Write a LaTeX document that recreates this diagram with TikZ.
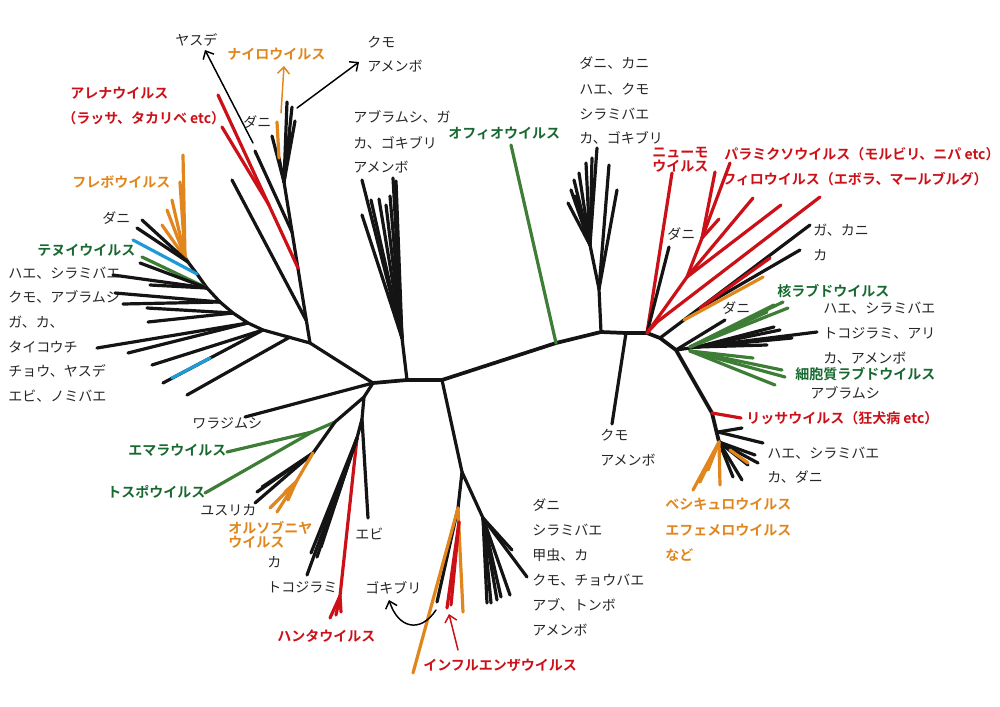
\documentclass[tikz,border=0pt]{standalone}
\usepackage{fontspec}
\setmainfont{Noto Sans CJK JP}[BoldFont={Noto Sans CJK JP Bold}]
\usetikzlibrary{arrows.meta}
\definecolor{vred}{HTML}{CC1018}
\definecolor{vorange}{HTML}{E0861C}
\definecolor{vgreen}{HTML}{3E7D35}
\definecolor{tgreen}{HTML}{17692F}
\definecolor{vblue}{HTML}{1E9BD7}
\newcommand\brfan[4]{\foreach \px/\py [count=\k] in {#4}{\coordinate (#3-\k) at (\px,\py); \draw[#1] (#2) -- (#3-\k);}}
\begin{document}
\begin{tikzpicture}[x=0.75pt,y=-0.75pt,line cap=round,line join=round,
  br/.style={line width=2.4pt},
  bk/.style={br,draw=black!92},
  rd/.style={br,draw=vred},
  og/.style={br,draw=vorange},
  gn/.style={br,draw=vgreen},
  bl/.style={br,draw=vblue},
  lab/.style={anchor=west,inner sep=0pt,text=black!85,font=\fontsize{10.5}{12.6}\selectfont},
  vl/.style={anchor=west,inner sep=0pt,font=\fontsize{10.5}{12.6}\selectfont\bfseries},
  ptr/.style={line width=1.1pt,-{Straight Barb[length=5pt,width=9pt]}}]
\useasboundingbox (0,0) rectangle (1000,707);
% ---------- labels ----------
\node[lab] (yasude) at (175,40) {ヤスデ};
\node[vl,text=vorange] (nairo) at (227,54) {ナイロウイルス};
\node[lab] (kumo1) at (367,42) {クモ};
\node[lab] (amen1) at (367,66) {アメンボ};
\node[vl,text=vred] (arena) at (70,93) {アレナウイルス};
\node[vl,text=vred] (arena2) at (62,118) {（ラッサ、タカリベ etc）};
\node[lab] (dani1) at (243,122) {ダニ};
\node[vl,text=vorange] (phlebo) at (72,182) {フレボウイルス};
\node[lab] (dani2) at (102,218) {ダニ};
\node[vl,text=tgreen] (tenui) at (37,250) {テヌイウイルス};
\node[lab] (lf1) at (8,273) {ハエ、シラミバエ};
\node[lab] (lf2) at (8,297) {クモ、アブラムシ};
\node[lab] (lf3) at (8,322) {ガ、カ、};
\node[lab] (lf4) at (8,347) {タイコウチ};
\node[lab] (lf5) at (8,371) {チョウ、ヤスデ};
\node[lab] (lf6) at (8,396) {エビ、ノミバエ};
\node[lab] (c1) at (353,117) {アブラムシ、ガ};
\node[lab] (c2) at (353,143) {カ、ゴキブリ};
\node[lab] (c3) at (353,167) {アメンボ};
\node[vl,text=tgreen] (ophio) at (448,133) {オフィオウイルス};
\node[lab] (r1) at (579,63) {ダニ、カニ};
\node[lab] (r2) at (579,89) {ハエ、クモ};
\node[lab] (r3) at (579,114) {シラミバエ};
\node[lab] (r4) at (579,138) {カ、ゴキブリ};
\node[vl,text=vred] (pneumo1) at (652,153) {ニューモ};
\node[vl,text=vred] (pneumo2) at (652,166) {ウイルス};
\node[vl,text=vred] (paramyxo) at (724,154) {パラミクソウイルス（モルビリ、ニパ etc）};
\node[vl,text=vred] (filo) at (722,179) {フィロウイルス（エボラ、マールブルグ）};
\node[lab] (dani3) at (667,234) {ダニ};
\node[lab] (gakani) at (813,230) {ガ、カニ};
\node[lab] (ka1) at (813,255) {カ};
\node[vl,text=tgreen] (nrhabdo) at (777,291) {核ラブドウイルス};
\node[lab] (dani4) at (722,308) {ダニ};
\node[lab] (rr1) at (823,308) {ハエ、シラミバエ};
\node[lab] (rr2) at (823,333) {トコジラミ、アリ};
\node[lab] (rr3) at (823,358) {カ、アメンボ};
\node[vl,text=tgreen] (crhabdo) at (795,374) {細胞質ラブドウイルス};
\node[lab] (rr4) at (810,393) {アブラムシ};
\node[vl,text=vred] (lyssa) at (746,418) {リッサウイルス（狂犬病 etc）};
\node[lab] (kumo2) at (600,435) {クモ};
\node[lab] (amen2) at (600,460) {アメンボ};
\node[lab] (g1) at (767,453) {ハエ、シラミバエ};
\node[lab] (g2) at (767,477) {カ、ダニ};
\node[vl,text=vorange] (vesi1) at (665,504) {ベシキュロウイルス};
\node[vl,text=vorange] (vesi2) at (665,530) {エフェメロウイルス};
\node[vl,text=vorange] (vesi3) at (665,555) {など};
\node[lab] (b1) at (532,505) {ダニ};
\node[lab] (b2) at (532,530) {シラミバエ};
\node[lab] (b3) at (532,555) {甲虫、カ};
\node[lab] (b4) at (532,580) {クモ、チョウバエ};
\node[lab] (b5) at (532,605) {アブ、トンボ};
\node[lab] (b6) at (532,630) {アメンボ};
\node[vl,text=vred] (influ) at (423,665) {インフルエンザウイルス};
\node[lab] (waraji) at (192,423) {ワラジムシ};
\node[vl,text=tgreen] (emara) at (128,450) {エマラウイルス};
\node[vl,text=tgreen] (tospo) at (107,492) {トスポウイルス};
\node[lab] (yusurika) at (200,510) {ユスリカ};
\node[vl,text=vorange] (ortho1) at (228,528) {オルソブニヤ};
\node[vl,text=vorange] (ortho2) at (228,542) {ウイルス};
\node[lab] (ka2) at (267,562) {カ};
\node[lab] (toko) at (267,587) {トコジラミ};
\node[lab] (ebi) at (355,534) {エビ};
\node[lab] (goki) at (365,588) {ゴキブリ};
\node[vl,text=vred] (hanta) at (277,636) {ハンタウイルス};
% ---------- backbone ----------
\coordinate (A) at (373,383);
\coordinate (B) at (407,380);
\coordinate (C) at (442,380);
\coordinate (O) at (556,343);
\coordinate (D) at (601,332);
\coordinate (D2) at (626,333);
\coordinate (E) at (647,333);
\coordinate (E1) at (660,338);
\coordinate (F) at (676,350);
\coordinate (G) at (712,413);
\coordinate (G2) at (719,442);
\draw[bk,line width=2.8pt] (A) -- (B) -- (C) -- (O) -- (D) -- (D2) -- (E) -- (E1) -- (F) -- (G) -- (G2);
% ophio
\coordinate (oph) at (511,145);
\draw[gn] (O) -- (oph);
% centre-top clade
\coordinate (B1) at (402,338);
\draw[bk] (B) -- (B1);
\brfan{bk}{B1}{bt}{362/180, 362/215, 371/200, 379/199, 386/205, 390/196, 393/178, 396/181}
% right-top clade
\coordinate (Ds) at (599,289);
\coordinate (D3) at (590,245);
\draw[bk] (D) -- (Ds) -- (D3);
\brfan{bk}{Ds}{dt}{609/165, 617/190}
\brfan{bk}{D3}{du}{597/148, 592/158, 586/163, 579/173, 574/180, 571/190, 575/196, 568/203}
\coordinate (km) at (612,424);
\draw[bk] (D2) -- (km);
% E clade
\coordinate (pn) at (672,173);
\draw[rd] (E) -- (pn);
\coordinate (dn) at (669,247);
\draw[bk] (E) -- (dn);
\coordinate (R1) at (687,277);
\coordinate (Rp) at (702,238);
\draw[rd] (E) -- (R1) -- (Rp);
\brfan{rd}{Rp}{rp}{730/163, 715/172, 719/219}
\brfan{rd}{R1}{rq}{753/198, 781/205}
\coordinate (R2) at (657,322);
\coordinate (fl) at (820,197);
\draw[rd] (E) -- (R2) -- (fl);
\coordinate (ga) at (810,225);
\draw[bk] (E1) -- (ga);
\coordinate (Eg) at (700,308);
\coordinate (Eo) at (684,320);
\brfan{bk}{Eg}{eg}{800/250}
\brfan{rd}{Eg}{er}{770/258}
\brfan{og}{Eo}{eo}{763/277}
% F fan
\coordinate (F2) at (690,347);
\coordinate (F3) at (697,347);
\coordinate (F4) at (690,351);
\draw[bk] (F) -- (F3);
\brfan{bk}{F}{fd}{725/320}
\brfan{bk}{F3}{fb}{817/332, 780/330, 792/338, 767/345, 774/327}
\brfan{gn}{F2}{fg}{783/302, 788/308, 767/312, 774/305}
\brfan{gn}{F4}{fh}{753/358, 782/370, 785/377, 775/385}
% G fan
\coordinate (ly) at (741,418);
\draw[rd] (G) -- (ly);
\coordinate (G3) at (718,432);
\brfan{bk}{G3}{gb}{742/428, 763/443}
\brfan{bk}{G2}{gc}{758/463, 748/465, 742/480, 733/477, 755/455}
\brfan{og}{G2}{go}{693/490, 700/482, 708/470, 720/485}
\coordinate (Go) at (730,450);
\brfan{og}{Go}{gp}{748/463}
% bottom clade
\coordinate (M) at (462,472);
\coordinate (M2) at (458,508);
\coordinate (N) at (483,518);
\draw[bk] (C) -- (M) -- (M2);
\draw[bk] (M) -- (N);
\brfan{bk}{N}{nb}{487/603, 491/603, 497/600, 501/597, 510/595, 527/577, 512/550}
\brfan{bk}{M2}{mb}{437/602}
\brfan{og}{M2}{mo}{413/673, 463/612}
\coordinate (M3) at (459,522);
\brfan{rd}{M3}{mr}{447/608, 451/605}
\coordinate (ia0) at (458,650);
\coordinate (ia1) at (449,614);
\draw[ptr,draw=vred] (ia0) -- (ia1);
\coordinate (cs) at (436,610);
\coordinate (ce) at (389,600);
\draw[ptr] (cs) .. controls (420,634) and (398,628) .. (ce);
% lower-left clade
\coordinate (H) at (310,343);
\draw[bk] (A) -- (H);
\coordinate (I) at (364,397);
\coordinate (J) at (335,422);
\coordinate (K) at (362,419);
\coordinate (K2) at (357,438);
\draw[bk] (A) -- (I) -- (J);
\draw[bk] (I) -- (K) -- (K2);
\coordinate (wj) at (245,417);
\draw[bk] (A) -- (wj);
\coordinate (Jg) at (312,432);
\draw[gn] (J) -- (Jg);
\brfan{gn}{Jg}{jg}{227/452, 205/493}
\coordinate (L) at (313,453);
\draw[bk] (J) -- (L);
\brfan{bk}{L}{lb}{257/492, 255/503, 262/487}
\coordinate (Lo) at (296,482);
\draw[og] (L) -- (Lo);
\brfan{og}{Lo}{lo}{270/508, 277/512, 288/500, 285/492}
\coordinate (Kr) at (340,596);
\draw[rd] (K2) -- (Kr);
\brfan{rd}{Kr}{kr}{330/618, 336/615, 341/612}
\brfan{bk}{K2}{kb}{307/575, 311/553, 317/557, 321/547}
\coordinate (eb) at (368,518);
\draw[bk] (K) -- (eb);
% upper-left clade
\coordinate (T) at (284,182);
\draw[bk] (H) -- (T);
\coordinate (S1) at (306,320);
\coordinate (S2) at (292,232);
\coordinate (S3) at (298,268);
\coordinate (S4) at (269,205);
\brfan{bk}{S1}{sa}{232/180}
\brfan{bk}{S2}{sb}{255/151}
\coordinate (ar) at (218,95);
\coordinate (ar2) at (222,127);
\draw[rd] (S3) -- (ar);
\draw[rd] (S4) -- (ar2);
\brfan{bk}{T}{tb}{287/102, 292/107, 295/121, 290/132, 272/136}
\coordinate (T2) at (279,158);
\draw[bk] (T) -- (T2);
\brfan{og}{T2}{to}{277/122}
\coordinate (ys0) at (253,143);
\coordinate (ys1) at (205,50);
\draw[ptr] (ys0) -- (ys1);
\coordinate (na0) at (281,113);
\coordinate (na1) at (284,66);
\draw[ptr,draw=vorange] (na0) -- (na1);
\coordinate (km0) at (297,108);
\coordinate (km1) at (359,62);
\draw[ptr] (km0) -- (km1);
% left fan
\coordinate (H0) at (263,330);
\coordinate (H1) at (248,323);
\coordinate (H2) at (233,313);
\coordinate (H3) at (220,302);
\coordinate (H4) at (207,288);
\coordinate (H5) at (197,274);
\coordinate (H6) at (188,262);
\coordinate (H7) at (185,257);
\draw[bk] (H) -- (H0) -- (H1) -- (H2) -- (H3) -- (H4) -- (H5) -- (H6) -- (H7);
\brfan{og}{H7}{ho}{183/155, 180/182, 172/200, 167/210}
\brfan{og}{H6}{hp}{162/225}
\brfan{bk}{H6}{hk}{142/220, 137/228}
\brfan{bl}{H5}{hb}{133/240}
\brfan{gn}{H4}{hg}{142/257}
\brfan{bk}{H4}{hh}{140/263, 113/275, 150/285}
\brfan{bk}{H3}{hi}{115/293, 123/304}
\brfan{bk}{H2}{hj}{147/308, 148/322}
\brfan{bk}{H1}{hm}{97/348, 128/353}
\brfan{bk}{H0}{hn}{152/365, 163/383}
\coordinate (Hx) at (290,337);
\brfan{bk}{Hx}{hx}{187/395}
\coordinate (bl1) at (172,378);
\coordinate (bl2) at (210,358);
\draw[bl] (bl1) -- (bl2);
\end{tikzpicture}
\end{document}
